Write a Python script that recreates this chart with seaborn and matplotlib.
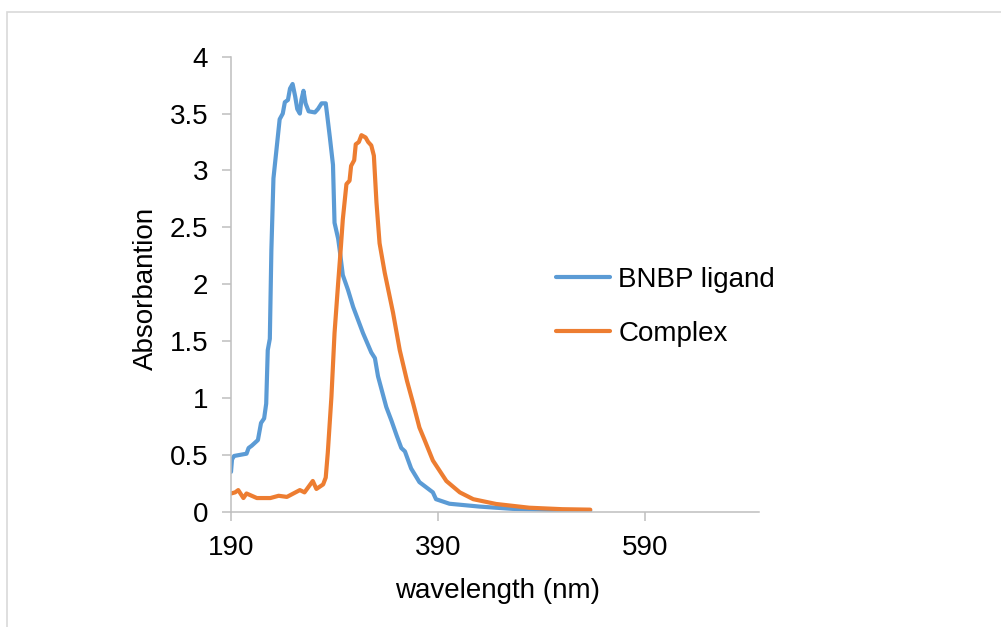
import pandas as pd
import matplotlib
matplotlib.use("Agg")
import matplotlib.pyplot as plt
import seaborn as sns
from matplotlib.patches import Rectangle

# values
ligand_wl = [190, 191, 193, 199, 205, 207, 210, 216, 219, 222, 224, 225.5, 227.5, 229, 231,
             234, 237, 240, 242, 245, 247, 249.5, 252, 254, 256.5, 258, 260, 262, 265, 271,
             274, 277.5, 281.5, 283, 285.5, 288.5, 290, 293.5, 295, 298, 303, 308, 317.5,
             325.5, 329, 332, 340, 345, 350, 354.5, 358, 364, 372, 385, 388, 401, 430, 462,
             500, 537]
ligand_abs = [0.35, 0.46, 0.49, 0.50, 0.51, 0.56, 0.58, 0.63, 0.78, 0.82, 0.95, 1.42, 1.52,
              2.30, 2.93, 3.19, 3.45, 3.50, 3.60, 3.62, 3.72, 3.76, 3.65, 3.54, 3.50, 3.62,
              3.70, 3.59, 3.52, 3.51, 3.54, 3.59, 3.59, 3.48, 3.29, 3.05, 2.54, 2.40, 2.30,
              2.08, 1.95, 1.80, 1.57, 1.40, 1.35, 1.19, 0.92, 0.80, 0.67, 0.56, 0.53, 0.38,
              0.26, 0.17, 0.11, 0.07, 0.045, 0.025, 0.015, 0.01]

complex_wl = [190, 194, 197, 202, 205, 210, 215, 228, 236, 244, 256.5, 261, 269, 272.5, 279,
              281.5, 283.5, 287, 290, 293.5, 296, 298, 301.5, 304.5, 306, 309, 310.5, 313.5,
              316, 320, 322.5, 325.5, 328, 330.5, 333.5, 338.5, 346.5, 353, 360, 366, 372,
              377, 385, 398, 411, 424, 446, 478, 510, 537]
complex_abs = [0.16, 0.17, 0.19, 0.12, 0.16, 0.14, 0.12, 0.12, 0.14, 0.13, 0.19, 0.17, 0.27,
               0.20, 0.24, 0.30, 0.52, 1.01, 1.57, 2.01, 2.31, 2.57, 2.88, 2.91, 3.04, 3.09,
               3.23, 3.25, 3.31, 3.29, 3.25, 3.22, 3.13, 2.72, 2.36, 2.10, 1.75, 1.42, 1.15,
               0.95, 0.74, 0.63, 0.45, 0.27, 0.17, 0.11, 0.068, 0.035, 0.022, 0.018]

x_ticks = [190, 390, 590]
y_ticks = [0, 0.5, 1, 1.5, 2, 2.5, 3, 3.5, 4]

sns.set_theme(style="white")
plt.rcParams["font.family"] = ["Liberation Sans", "DejaVu Sans"]
plt.rcParams["text.color"] = "black"
plt.rcParams["axes.labelcolor"] = "black"

fig = plt.figure(figsize=(10.01, 6.27), dpi=100)
ax = fig.add_axes([231 / 1001, 1 - 511.7 / 627, 528 / 1001, 455 / 627])

sns.lineplot(x=ligand_wl, y=ligand_abs, ax=ax, color="#5B9BD5", lw=3,
             label="BNBP ligand")
sns.lineplot(x=complex_wl, y=complex_abs, ax=ax, color="#ED7D31", lw=3,
             label="Complex")

ax.set_xlim(190, 700)
ax.set_ylim(0, 4)
ax.set_xticks(x_ticks)
ax.set_xticklabels([str(v) for v in x_ticks])
ax.set_yticks(y_ticks)
ax.set_yticklabels([f"{v:g}" for v in y_ticks])
ax.tick_params(axis="both", labelsize=20, length=6.5, width=1.1, color="#BFBFBF",
               pad=10, labelcolor="black")
ax.tick_params(axis="x", bottom=True)
ax.tick_params(axis="y", left=True)

for s in ["top", "right"]:
    ax.spines[s].set_visible(False)
for s in ["left", "bottom"]:
    ax.spines[s].set_color("#BFBFBF")
    ax.spines[s].set_linewidth(1.1)

ax.set_xlabel("wavelength (nm)", fontsize=20, va="center", color="black")
ax.set_ylabel("Absorbantion", fontsize=20, va="center", color="black")
ax.xaxis.set_label_coords(0.504, -0.174)
ax.yaxis.set_label_coords(-0.162, 0.49)

leg = ax.legend(loc="center left", bbox_to_anchor=(556 / 1001, 1 - 307 / 627),
                bbox_transform=fig.transFigure, frameon=False, fontsize=20,
                handlelength=1.95, handletextpad=0.3, labelspacing=1.02,
                borderpad=0, borderaxespad=0)
for t in leg.get_texts():
    t.set_color("black")

# light chart-area border
fig.add_artist(Rectangle((7 / 1001, -0.02), 1.1, 1 - 12 / 627 + 0.02,
                         transform=fig.transFigure, fill=False,
                         edgecolor="#D9D9D9", lw=1.2))

fig.savefig("out.png", dpi=100)
